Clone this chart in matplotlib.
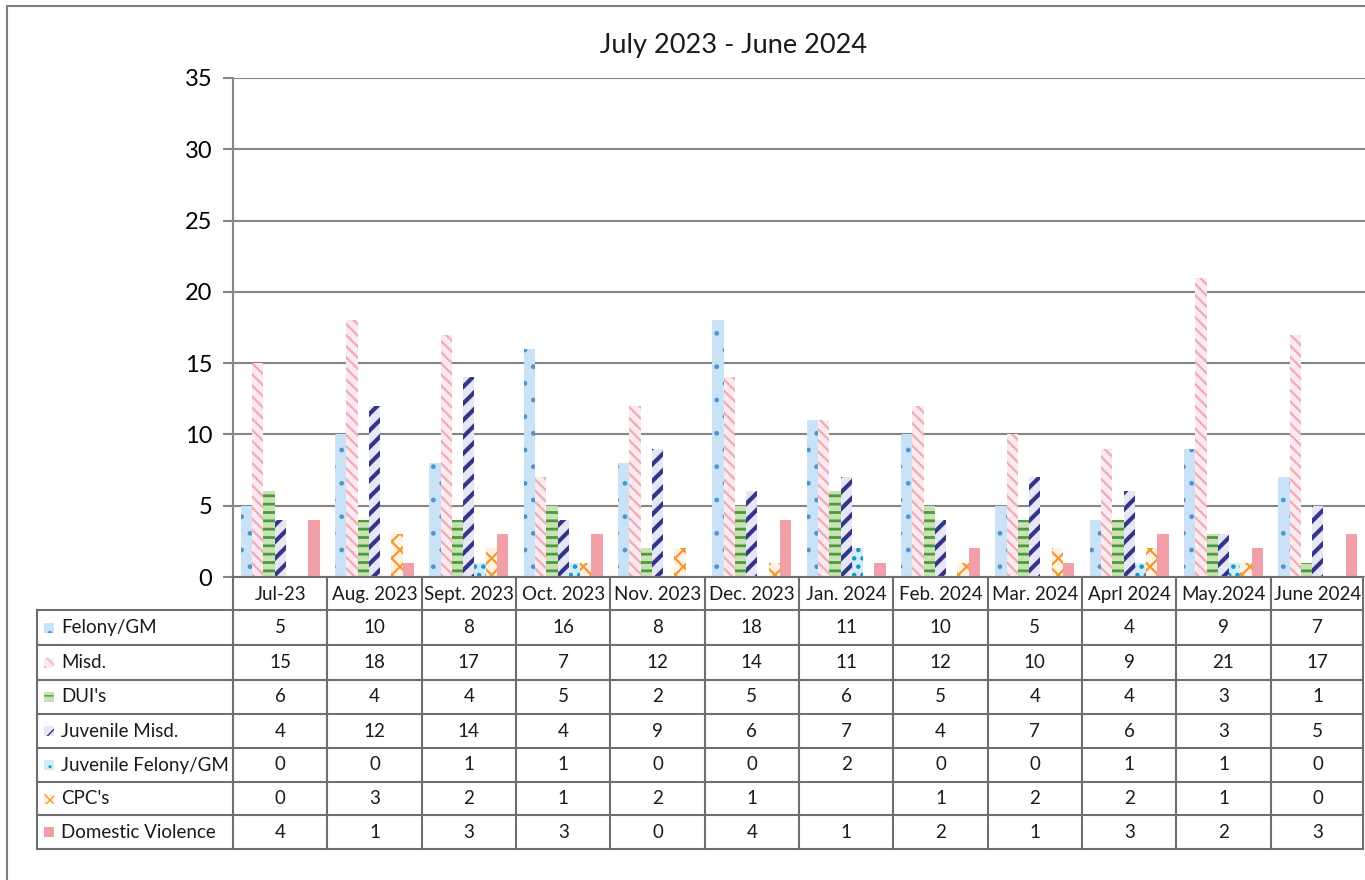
import numpy as np
import matplotlib
matplotlib.use("Agg")
import matplotlib.pyplot as plt
from matplotlib.patches import Rectangle
from matplotlib.transforms import blended_transform_factory
from matplotlib.lines import Line2D

plt.rcParams['font.family'] = ['Lato', 'DejaVu Sans']

months = ["Jul-23", "Aug. 2023", "Sept. 2023", "Oct. 2023", "Nov. 2023", "Dec. 2023",
          "Jan. 2024", "Feb. 2024", "Mar. 2024", "Aprl 2024", "May.2024", "June 2024"]
series_names = ["Felony/GM", "Misd.", "DUI's", "Juvenile Misd.", "Juvenile Felony/GM",
                "CPC's", "Domestic Violence"]
felony = [5, 10, 8, 16, 8, 18, 11, 10, 5, 4, 9, 7]
misd = [15, 18, 17, 7, 12, 14, 11, 12, 10, 9, 21, 17]
duis = [6, 4, 4, 5, 2, 5, 6, 5, 4, 4, 3, 1]
juv_misd = [4, 12, 14, 4, 9, 6, 7, 4, 7, 6, 3, 5]
juv_felony = [0, 0, 1, 1, 0, 0, 2, 0, 0, 1, 1, 0]
cpcs = [0, 3, 2, 1, 2, 1, None, 1, 2, 2, 1, 0]
dv = [4, 1, 3, 3, 0, 4, 1, 2, 1, 3, 2, 3]
all_series = [felony, misd, duis, juv_misd, juv_felony, cpcs, dv]
title = "July 2023 - June 2024"
yticks = [0, 5, 10, 15, 20, 25, 30, 35]

# styles: (face, hatch color, hatch, hatch lw)
styles = [
    ("#C9E2F6", "#4F95CF", ".", 1.0),
    ("#FCEBEE", "#F2A9B8", "\\\\\\", 1.6),
    ("#C8E2B6", "#4C9A3C", "--", 2.0),
    ("#E6E6F5", "#34348A", "//", 3.0),
    ("#D4EAF7", "#1896C4", "..", 2.0),
    ("#FFF1E3", "#F39A2E", "xx", 1.6),
    ("#F2A0A8", "#F2A0A8", None, 1.0),
]

W, H = 1365, 880
fig = plt.figure(figsize=(W / 100, H / 100), dpi=100)
fig.patch.set_facecolor("white")

def fx(x):
    return x / W

def fy(y):
    return 1 - y / H

left, right, top, bottom = 233, 1365, 78, 577
ax = fig.add_axes([fx(left), fy(bottom), (right - left) / W, (bottom - top) / H])
ax.set_xlim(-0.5, 11.5)
ax.set_ylim(0, 35)

grid_c = "#858585"
for s in ["top", "right", "bottom"]:
    ax.spines[s].set_visible(False)
ax.spines["left"].set_color(grid_c)
ax.spines["left"].set_linewidth(1.5)
ax.set_yticks(yticks)
ax.set_yticklabels([str(t) for t in yticks], fontsize=17)
ax.tick_params(axis="y", length=7, width=1.5, color=grid_c, pad=8)
ax.set_xticks([])
for t in yticks:
    ax.axhline(t, color=grid_c, lw=1.5, zorder=0)

x = np.arange(len(months))
n = len(all_series)
bw = 0.12
for i, (vals, st) in enumerate(zip(all_series, styles)):
    face, hc, hatch, hlw = st
    h = np.array([np.nan if v is None else v for v in vals], dtype=float)
    h = np.nan_to_num(h)
    off = (i - (n - 1) / 2) * bw
    bars = ax.bar(x + off, h, width=bw, color=face, edgecolor=hc, linewidth=0,
                  hatch=hatch, zorder=2)
    for b in bars:
        if hasattr(b, "set_hatch_linewidth"):
            b.set_hatch_linewidth(hlw)

fig.text(fx(734), fy(45), title, ha="center", va="center", fontsize=19.5, color="#1a1a1a")

# Table
tr = blended_transform_factory(ax.transData, fig.transFigure)
tbl_c = "#6E6E6E"
row_edges = [577, 610, 645, 680, 714, 748, 782, 815, 849]
for k in range(len(months) + 1):
    xb = -0.5 + k
    if k == len(months):
        xb = -0.5 + k - 0.02
    fig.add_artist(Line2D([xb, xb], [fy(577), fy(849)], transform=tr, color=tbl_c, lw=1.5))
for ye in row_edges[1:]:
    fig.add_artist(Line2D([fx(37), fx(1363)], [fy(ye), fy(ye)], color=tbl_c, lw=1.5))
fig.add_artist(Line2D([fx(233), fx(1363)], [fy(577), fy(577)], color=tbl_c, lw=1.5))
fig.add_artist(Line2D([fx(37), fx(37)], [fy(610), fy(849)], color=tbl_c, lw=1.5))

for k, m in enumerate(months):
    fig.text(k, fy(594), m, transform=tr, ha="center", va="center", fontsize=13.5, color="#1a1a1a")

for r, (name, vals, st) in enumerate(zip(series_names, all_series, styles)):
    yc = (row_edges[r + 1] + row_edges[r + 2]) / 2
    face, hc, hatch, hlw = st
    key = Rectangle((fx(44), fy(yc + 5)), 10 / W, 10 / H, transform=fig.transFigure,
                    facecolor=face, edgecolor=hc, linewidth=0, hatch=hatch)
    fig.add_artist(key)
    fig.text(fx(61), fy(yc), name, ha="left", va="center", fontsize=13.5, color="#1a1a1a")
    for k, v in enumerate(vals):
        if v is None:
            continue
        fig.text(k, fy(yc), str(v), transform=tr, ha="center", va="center",
                 fontsize=13.5, color="#1a1a1a")

# outer border
fig.add_artist(Line2D([fx(7), fx(7)], [fy(6), fy(880)], color="#808080", lw=1.5))
fig.add_artist(Line2D([fx(7), fx(1365)], [fy(6), fy(6)], color="#808080", lw=1.5))

fig.savefig("out.png", dpi=100, facecolor="white")
